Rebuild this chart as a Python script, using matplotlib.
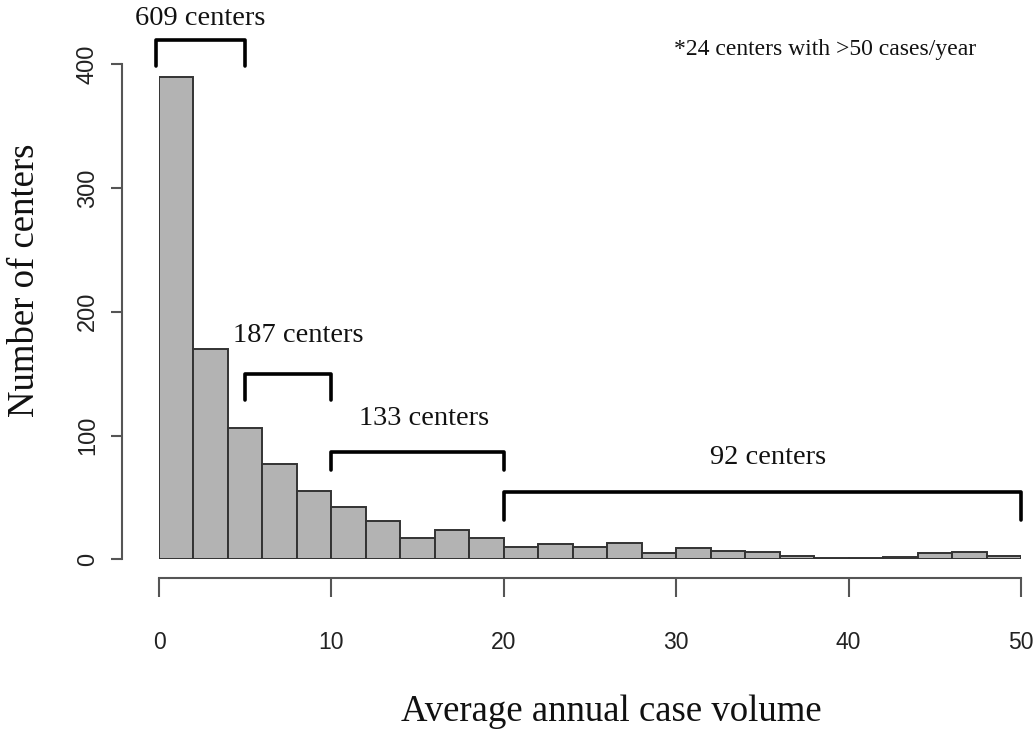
import matplotlib

matplotlib.use("Agg")
import matplotlib.pyplot as plt
import numpy as np

# histogram of average annual case volume, bins of width 2 from 0 to 50
bin_edges = np.arange(0, 52, 2)
counts = [390, 170, 106, 77, 55, 42, 31, 17, 24, 17,
          10, 12, 10, 13, 5, 9, 7, 6, 3, 1,
          1, 2, 5, 6, 3]

# bracket groups: (start, end, label)
groups = [(-0.2, 5, "609 centers"), (5, 10, "187 centers"),
          (10, 20, "133 centers"), (20, 50, "92 centers")]
# bracket heights (bar top, tip end) and label heights, in count units
bracket_y = [420, 150, 87, 54]
tip_y = [399, 129, 72, 32]
label_xy = [(2.4, 437), (8.1, 181), (15.4, 114), (35.3, 82)]

footnote = "*24 centers with >50 cases/year"

SERIF = ["Liberation Serif", "DejaVu Serif"]
SANS = ["Liberation Sans", "DejaVu Sans"]
AXIS_GREY = "#555555"
PX = 72 / 100  # points per pixel

fig = plt.figure(figsize=(10.35, 7.31), dpi=100)
ax = fig.add_axes([159 / 1035, 1 - 559.3 / 731, 862 / 1035, 529.3 / 731])

ax.bar(bin_edges[:-1], counts, width=2, align="edge",
       color="#b3b3b3", edgecolor="#333333", linewidth=1.4)

ax.set_xlim(0, 50)
ax.set_ylim(0, 427.7)

for s in ("top", "right"):
    ax.spines[s].set_visible(False)
ax.spines["left"].set_position(("outward", 37 * PX))
ax.spines["bottom"].set_position(("outward", 19 * PX))
ax.spines["left"].set_bounds(0, 400)
ax.spines["bottom"].set_bounds(0, 50)
for s in ("left", "bottom"):
    ax.spines[s].set_color(AXIS_GREY)
    ax.spines[s].set_linewidth(1.5)

ax.set_xticks([0, 10, 20, 30, 40, 50])
ax.set_yticks([0, 100, 200, 300, 400])
ax.tick_params(axis="x", length=19 * PX, width=1.5, color=AXIS_GREY,
               pad=34 * PX, labelsize=16.5, labelcolor="#222222")
ax.tick_params(axis="y", length=11 * PX, width=1.5, color=AXIS_GREY,
               pad=12 * PX, labelsize=17, labelcolor="#222222",
               labelrotation=90)
for lab in ax.get_yticklabels():
    lab.set_verticalalignment("center")
for lab in ax.get_xticklabels() + ax.get_yticklabels():
    lab.set_family(SANS)

# brackets
for (x0, x1, text), yb, yt, (tx, ty) in zip(groups, bracket_y, tip_y, label_xy):
    ax.plot([x0, x0, x1, x1], [yt, yb, yb, yt], color="black", lw=2.6,
            solid_capstyle="round", solid_joinstyle="round", clip_on=False)
    ax.text(tx, ty, text, ha="center", va="center", fontsize=20.5,
            family=SERIF, color="#111111")

fig.text(825 / 1035, 1 - 50 / 731, footnote, ha="center", va="center",
         fontsize=17, family=SERIF, color="#111111")

fig.text(611 / 1035, 1 - 712 / 731, "Average annual case volume",
         ha="center", va="center", fontsize=26.5, family=SERIF, color="#111111")
fig.text(25 / 1035, 1 - 280 / 731, "Number of centers", rotation=90,
         ha="center", va="center", fontsize=26.5, family=SERIF, color="#111111")

fig.savefig("out.png", dpi=100)
